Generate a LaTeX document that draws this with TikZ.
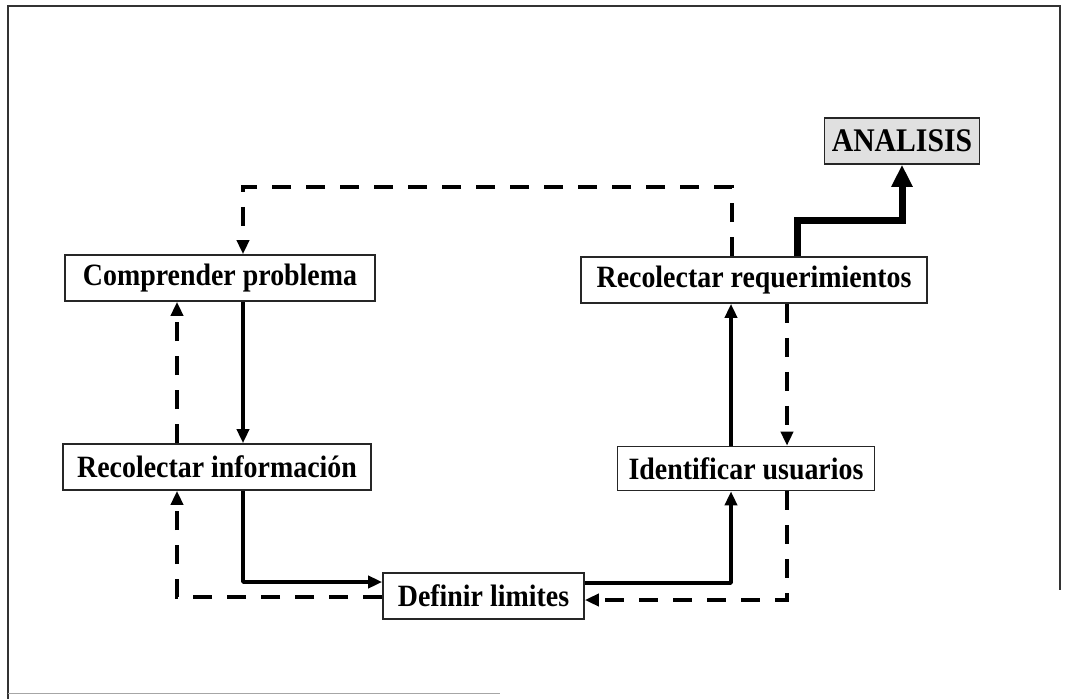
\documentclass[tikz,border=0pt]{standalone}
\usepackage{fontspec}
\setmainfont{Liberation Serif}
\newfontfamily\boxfont[FakeStretch=0.9]{Liberation Serif}
\usetikzlibrary{arrows.meta}
\begin{document}
\begin{tikzpicture}[x=1pt,y=-1pt,
  stepbox/.style={draw=black!85,line width=1.6pt,fill=white,inner sep=0pt,
    minimum height=46pt,font=\boxfont\fontsize{31}{34}\selectfont\bfseries},
  sol/.style={line width=3.5pt,line join=round,-{Triangle[length=14pt,width=12pt]}},
  dsh/.style={line width=3.8pt,dash pattern=on 19pt off 15pt,-{Triangle[length=14pt,width=12pt]}},
  thick arrow/.style={line width=7pt,line join=miter,-{Triangle[length=22pt,width=20pt]}}]
  \useasboundingbox (0,0) rectangle (1068,699);
  % page frame
  \draw[line width=1.6pt,black!80] (8,699) -- (8,6) -- (1060,6) -- (1060,590);
  \draw[line width=1pt,black!35] (8,693) -- (500,693);

  % process steps
  \node[stepbox,minimum width=310pt] (comp)  at (220,278)   {Comprender problema};
  \node[stepbox,minimum width=308pt] (rinfo) at (217,467)   {Recolectar información};
  \node[stepbox,minimum width=201pt] (def)   at (483.5,596) {Definir limites};
  \node[stepbox,minimum width=257pt,minimum height=44pt] (iden) at (746,468.5) {Identificar usuarios};
  \node[stepbox,minimum width=346pt] (rreq)  at (754,280)   {Recolectar requerimientos};
  \node[stepbox,minimum width=155pt,fill=black!12,font=\boxfont\fontsize{33}{36}\selectfont\bfseries] (anal) at (902,141) {ANALISIS};

  % routing points
  \coordinate (topR)  at (732,187);
  \coordinate (topL)  at (243,187);
  \coordinate (leftD) at (177,597);
  \coordinate (fwdL)  at (243,582);
  \coordinate (fwdR)  at (731,583);
  \coordinate (backR) at (787,600);
  \coordinate (upA)   at (797,220);
  \coordinate (upB)   at (902,220);

  % forward flow
  \draw[sol] (comp.south -| topL) -- (rinfo.north -| topL);
  \draw[sol] (rinfo.south -| fwdL) -- (fwdL) -- (def.west |- fwdL);
  \draw[sol] (def.east |- fwdR) -- (fwdR) -- (iden.south -| fwdR);
  \draw[sol] (iden.north -| fwdR) -- (rreq.south -| fwdR);

  % feedback loops
  \draw[dsh] (rreq.north -| topR) -- (topR) -- (topL) -- (comp.north -| topL);
  \draw[dsh] (rinfo.north -| leftD) -- (comp.south -| leftD);
  \draw[dsh] (def.west |- leftD) -- (leftD) -- (rinfo.south -| leftD);
  \draw[dsh] (rreq.south -| backR) -- (iden.north -| backR);
  \draw[dsh] (iden.south -| backR) -- (backR) -- (def.east |- backR);

  % exit to analysis
  \draw[thick arrow] (rreq.north -| upA) -- (upA) -- (upB) -- (anal.south);
\end{tikzpicture}
\end{document}
